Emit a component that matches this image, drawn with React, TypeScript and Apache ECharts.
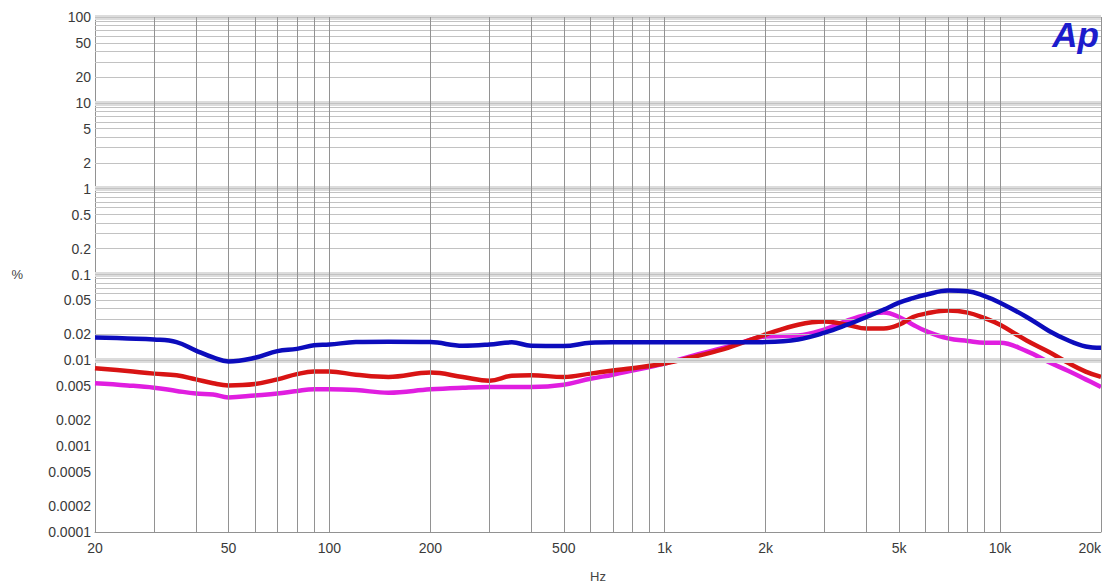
import React, { useEffect, useRef } from "react";
import * as echarts from "echarts";

// Frequencies (Hz) at which the curves were read
const freqs = [
  20, 25, 30, 35, 40, 45, 50, 60, 70, 80, 90, 100, 120, 150, 200, 250, 300, 350, 400, 500, 600, 700, 800,
  1000, 1200, 1500, 1700, 2000, 2500, 3000, 3500, 4000, 4500, 5000, 5500, 6000, 7000, 8000, 9000,
  10000, 12000, 14000, 16000, 18000, 20000,
];

// THD+N (%) values
const blueValues = [
  0.0185, 0.018, 0.0175, 0.0163, 0.013, 0.0108, 0.0097, 0.0107, 0.0128, 0.0136, 0.015, 0.0153, 0.0163,
  0.0165, 0.0163, 0.0148, 0.0153, 0.0162, 0.0148, 0.0147, 0.016, 0.0162, 0.0162, 0.0162, 0.0162, 0.0162,
  0.0162, 0.0163, 0.0175, 0.021, 0.026, 0.032, 0.039, 0.047, 0.053, 0.058, 0.065, 0.064, 0.056, 0.047,
  0.032, 0.022, 0.017, 0.0145, 0.014,
];
const redValues = [
  0.0081, 0.0075, 0.007, 0.0067, 0.006, 0.0054, 0.0051, 0.0053, 0.006, 0.0069, 0.0074, 0.0074, 0.0068,
  0.0064, 0.0072, 0.0064, 0.0058, 0.0066, 0.0067, 0.0064, 0.007, 0.0076, 0.0081, 0.0092, 0.0108, 0.0135,
  0.016, 0.02, 0.026, 0.0283, 0.026, 0.0235, 0.0235, 0.026, 0.032, 0.035, 0.038, 0.036, 0.031, 0.026,
  0.017, 0.0125, 0.0093, 0.0074, 0.0064,
];
const magentaValues = [
  0.0054, 0.0051, 0.0048, 0.0044, 0.0041, 0.004, 0.0037, 0.0039, 0.0041, 0.0044, 0.0046, 0.0046, 0.0045,
  0.0042, 0.0046, 0.0048, 0.0049, 0.0049, 0.0049, 0.0052, 0.0061, 0.0068, 0.0076, 0.0092, 0.0112, 0.014,
  0.0162, 0.019, 0.0195, 0.023, 0.029, 0.034, 0.036, 0.032, 0.026, 0.022, 0.018, 0.0168, 0.016, 0.016,
  0.0128, 0.0095, 0.0075, 0.006, 0.0049,
];

const xTickLabels = [20, 50, 100, 200, 500, 1000, 2000, 5000, 10000, 20000];
const yTickLabels = [
  0.0001, 0.0002, 0.0005, 0.001, 0.002, 0.005, 0.01, 0.02, 0.05, 0.1, 0.2, 0.5, 1, 2, 5, 10, 20, 50, 100,
];
const xDecades = [10, 100, 1000, 10000];
const yDecades = [0.0001, 0.001, 0.01, 0.1, 1, 10];
const multipliers = [1, 2, 3, 4, 5, 6, 7, 8, 9];
const yBands = [0.001, 0.01, 0.1, 1, 10, 100];

const clean = (v: number) => Number(v.toPrecision(6));

export default function App() {
  const ref = useRef<HTMLDivElement>(null);

  useEffect(() => {
    if (!ref.current) return;
    const chart = echarts.init(ref.current, undefined, { renderer: "svg" });

    const xGrid: number[] = [];
    xDecades.forEach((d) => multipliers.forEach((m) => {
      const v = clean(d * m);
      if (v > 20 && v <= 20000) xGrid.push(v);
    }));
    const yGrid: number[] = [];
    yDecades.forEach((d) => multipliers.forEach((m) => {
      const v = clean(d * m);
      if (v > 0.0001 && v <= 100) yGrid.push(v);
    }));
    yGrid.push(100);

    const mk = (vals: number[]) => vals.map((v, i) => [freqs[i], v]);

    const markData: any[] = [
      ...yBands.map((v) => ({ yAxis: v, lineStyle: { color: "#dcdcdc", width: 5, type: "solid" } })),
      ...yGrid.map((v) => ({ yAxis: v, lineStyle: { color: "#c2c2c2", width: 1, type: "solid" } })),
      ...xGrid.map((v) => ({ xAxis: v, lineStyle: { color: "#929292", width: 1, type: "solid" } })),
    ];

    const font = "Arial, 'Liberation Sans', sans-serif";

    chart.setOption({
      animation: false,
      backgroundColor: "#ffffff",
      grid: { left: 95, right: 2, top: 17, bottom: 52, containLabel: false },
      xAxis: {
        type: "log",
        logBase: 10,
        min: 20,
        max: 20000,
        name: "Hz",
        nameLocation: "middle",
        nameGap: 38,
        nameTextStyle: { color: "#444", fontSize: 13, fontFamily: font },
        axisLine: { show: true, lineStyle: { color: "#929292", width: 1 } },
        axisTick: { show: false },
        splitLine: { show: false },
        axisLabel: {
          customValues: xTickLabels,
          alignMaxLabel: "right",
          color: "#3a3a3a",
          fontSize: 14,
          fontFamily: font,
          margin: 9,
          formatter: (v: number) => (v >= 1000 ? `${clean(v / 1000)}k` : `${clean(v)}`),
        },
      },
      yAxis: {
        type: "log",
        logBase: 10,
        min: 0.0001,
        max: 100,
        name: "%",
        nameLocation: "middle",
        nameRotate: 0,
        nameGap: 72,
        nameTextStyle: { color: "#444", fontSize: 13, fontFamily: font },
        axisLine: { show: true, lineStyle: { color: "#929292", width: 1 } },
        axisTick: { show: false },
        splitLine: { show: false },
        axisLabel: {
          customValues: yTickLabels,
          color: "#3a3a3a",
          fontSize: 14,
          fontFamily: font,
          margin: 4,
          formatter: (v: number) => `${clean(v)}`,
        },
      },
      graphic: [
        {
          type: "text",
          right: 5,
          top: 17,
          z: 10,
          style: {
            text: "Ap",
            font: "italic bold 35px Arial, 'Liberation Sans', sans-serif",
            fill: "#1c1ccc",
          },
        },
      ],
      series: [
        {
          type: "line",
          name: "grid",
          data: [[20, 0.0001]],
          symbol: "none",
          silent: true,
          z: 1,
          lineStyle: { opacity: 0 },
          markLine: {
            silent: true,
            symbol: ["none", "none"],
            label: { show: false },
            emphasis: { disabled: true },
            animation: false,
            data: [
              ...markData,
              { xAxis: 20000, lineStyle: { color: "#929292", width: 1, type: "solid" } },
            ],
          },
        },
        {
          type: "line",
          name: "magenta",
          data: mk(magentaValues),
          smooth: 0.4,
          symbol: "none",
          z: 3,
          lineStyle: { color: "#e01ee0", width: 4.5 },
        },
        {
          type: "line",
          name: "red",
          data: mk(redValues),
          smooth: 0.4,
          symbol: "none",
          z: 4,
          lineStyle: { color: "#d81414", width: 4.5 },
        },
        {
          type: "line",
          name: "blue",
          data: mk(blueValues),
          smooth: 0.4,
          symbol: "none",
          z: 5,
          lineStyle: { color: "#0c0cbc", width: 4.5 },
        },
      ],
    });

    return () => chart.dispose();
  }, []);

  return (
    <div
      ref={ref}
      style={{ position: "fixed", left: 0, top: 0, width: 1104, height: 588, background: "#fff" }}
    />
  );
}
